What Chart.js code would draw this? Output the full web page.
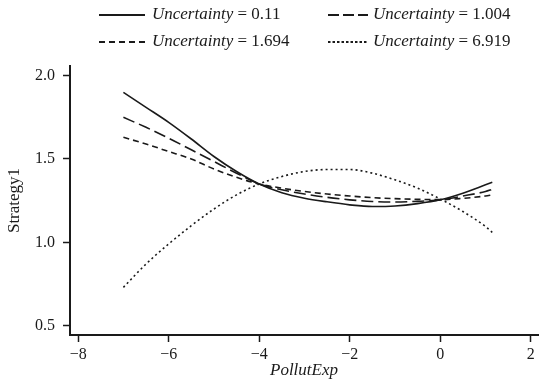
<!DOCTYPE html>
<html>
<head>
<meta charset="utf-8">
<script src="https://cdn.jsdelivr.net/npm/chart.js@4"></script>
<style>
  html, body { margin: 0; padding: 0; background: #fff; }
  #wrap { width: 539px; height: 390px; position: relative; }
</style>
</head>
<body>
<div id="wrap"><canvas id="chart"></canvas></div>
<script>
// values
const pollutExp = [-7, -6.5, -6, -5.5, -5, -4.5, -4, -3.5, -3, -2.5, -2, -1.5, -1, -0.5, 0, 0.5, 1, 1.15];
const unc011  = [1.90, 1.81, 1.72, 1.62, 1.515, 1.425, 1.35, 1.298, 1.265, 1.243, 1.225, 1.215, 1.218, 1.232, 1.255, 1.295, 1.345, 1.36];
const unc1004 = [1.75, 1.69, 1.625, 1.555, 1.485, 1.415, 1.35, 1.315, 1.29, 1.27, 1.255, 1.245, 1.242, 1.246, 1.255, 1.278, 1.305, 1.318];
const unc1694 = [1.63, 1.59, 1.545, 1.50, 1.44, 1.39, 1.35, 1.325, 1.305, 1.29, 1.278, 1.268, 1.262, 1.258, 1.256, 1.264, 1.278, 1.285];
const unc6919 = [0.73, 0.87, 0.99, 1.10, 1.20, 1.285, 1.35, 1.395, 1.425, 1.437, 1.437, 1.415, 1.375, 1.325, 1.26, 1.185, 1.095, 1.06];

const seriesLabels = ['0.11', '1.004', '1.694', '6.919'];
const xTicks = [-8, -6, -4, -2, 0, 2];
const yTicks = [0.5, 1.0, 1.5, 2.0];

const ink = '#1a1a1a';
const dashes = [[], [12, 5], [6, 4], [2, 3]];
const legendDashes = [[], [11, 4], [6, 4], [2.5, 2]];
const serif = '"Liberation Serif", "Times New Roman", serif';

function pts(ys) {
  return pollutExp.map((x, i) => ({x: x, y: ys[i]}));
}

const allSeries = [unc011, unc1004, unc1694, unc6919];

const datasets = allSeries.map((ys, i) => ({
  label: 'Uncertainty = ' + seriesLabels[i],
  data: pts(ys),
  borderColor: ink,
  borderWidth: 1.6,
  borderDash: dashes[i],
  pointRadius: 0,
  cubicInterpolationMode: 'monotone',
  fill: false
}));

// legend drawn by hand: italic "Uncertainty", upright "= value"
const legendPlugin = {
  id: 'mixedLegend',
  afterDraw(chart) {
    const c = chart.ctx;
    const spots = [
      {x0: 99, x1: 145, tx: 152, y: 15},
      {x0: 328, x1: 368, tx: 373, y: 15},
      {x0: 99, x1: 145, tx: 152, y: 42},
      {x0: 328, x1: 368, tx: 373, y: 42}
    ];
    c.save();
    spots.forEach((s, i) => {
      c.strokeStyle = ink;
      c.lineWidth = 1.8;
      c.setLineDash(legendDashes[i]);
      c.beginPath();
      c.moveTo(s.x0, s.y);
      c.lineTo(s.x1, s.y);
      c.stroke();
      c.setLineDash([]);
      c.fillStyle = ink;
      c.textBaseline = 'middle';
      c.font = 'italic 17px ' + serif;
      c.fillText('Uncertainty', s.tx, s.y);
      const w = c.measureText('Uncertainty ').width;
      c.font = '17px ' + serif;
      c.fillText('= ' + seriesLabels[i], s.tx + w, s.y);
    });
    c.restore();
  }
};

new Chart(document.getElementById('chart'), {
  type: 'line',
  data: { datasets: datasets },
  options: {
    responsive: true,
    maintainAspectRatio: false,
    animation: false,
    layout: { padding: { top: 66, right: 1, left: 0, bottom: 0 } },
    plugins: {
      legend: { display: false },
      tooltip: { enabled: false }
    },
    scales: {
      x: {
        type: 'linear',
        min: -8.18,
        max: 2.16,
        afterBuildTicks: s => { s.ticks = xTicks.map(v => ({value: v})); },
        afterFit: s => { s.height = 55; },
        ticks: {
          color: ink,
          padding: 3,
          maxRotation: 0,
          font: { family: serif, size: 16 },
          callback: v => (v < 0 ? '\u2212' + Math.abs(v) : String(v))
        },
        grid: { drawOnChartArea: false, drawTicks: true, tickLength: 7, tickWidth: 1.5, color: ink },
        border: { display: true, width: 2, color: ink },
        title: {
          display: true,
          text: 'PollutExp',
          color: ink,
          padding: { top: 0, bottom: 9 },
          font: { family: serif, size: 17, style: 'italic' }
        }
      },
      y: {
        type: 'linear',
        min: 0.444,
        max: 2.058,
        afterBuildTicks: s => { s.ticks = yTicks.map(v => ({value: v})); },
        afterFit: s => { s.width = 70; },
        ticks: {
          color: ink,
          padding: 8,
          font: { family: serif, size: 16 },
          callback: v => Number(v).toFixed(1)
        },
        grid: { drawOnChartArea: false, drawTicks: true, tickLength: 7, tickWidth: 1.5, color: ink },
        border: { display: true, width: 2, color: ink },
        title: {
          display: true,
          text: 'Strategy1',
          color: ink,
          padding: { top: 4, bottom: 0 },
          font: { family: serif, size: 17 }
        }
      }
    }
  },
  plugins: [legendPlugin]
});
</script>
</body>
</html>
